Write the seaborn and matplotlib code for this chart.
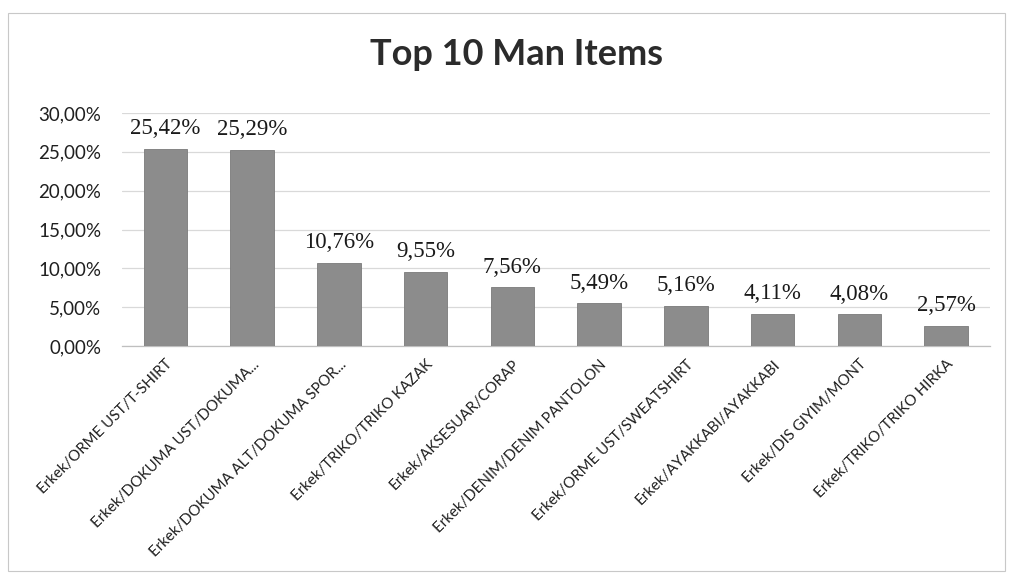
import matplotlib
matplotlib.use("Agg")
import matplotlib.pyplot as plt
from matplotlib.patches import Rectangle
from matplotlib.ticker import FuncFormatter, MultipleLocator
import seaborn as sns
import pandas as pd

categories = [
    "Erkek/ORME UST/T-SHIRT",
    "Erkek/DOKUMA UST/DOKUMA...",
    "Erkek/DOKUMA ALT/DOKUMA SPOR...",
    "Erkek/TRIKO/TRIKO KAZAK",
    "Erkek/AKSESUAR/CORAP",
    "Erkek/DENIM/DENIM PANTOLON",
    "Erkek/ORME UST/SWEATSHIRT",
    "Erkek/AYAKKABI/AYAKKABI",
    "Erkek/DIS GIYIM/MONT",
    "Erkek/TRIKO/TRIKO HIRKA",
]
shares = [25.42, 25.29, 10.76, 9.55, 7.56, 5.49, 5.16, 4.11, 4.08, 2.57]
title = "Top 10 Man Items"

df = pd.DataFrame({"item": categories, "share": shares})

sns.set_theme(style="white")
plt.rcParams["font.family"] = ["Lato", "DejaVu Sans"]

fig = plt.figure(figsize=(10.17, 5.76), dpi=100)
ax = fig.add_axes([0.12, 0.399, 0.853, 0.405])

sns.barplot(data=df, x="item", y="share", color="#8c8c8c", width=0.5,
            saturation=1, edgecolor="#7a7a7a", linewidth=0.6, ax=ax, zorder=3)

ax.set_xlim(-0.5, len(categories) - 0.5)
ax.set_ylim(0, 30)
ax.yaxis.set_major_locator(MultipleLocator(5))
ax.yaxis.set_major_formatter(FuncFormatter(lambda v, _: f"{v:.2f}".replace(".", ",") + "%"))
ax.grid(axis="y", color="#d9d9d9", linewidth=0.9, zorder=0)
ax.set_axisbelow(True)
for side in ["top", "right", "left"]:
    ax.spines[side].set_visible(False)
ax.spines["bottom"].set_color("#bfbfbf")
ax.spines["bottom"].set_linewidth(0.9)
ax.tick_params(axis="both", length=0)
ax.tick_params(axis="y", labelsize=13.5, colors="#1f1f1f", pad=15)
ax.set_xlabel("")
ax.set_ylabel("")

ax.set_xticks(range(len(categories)))
ax.set_xticklabels(categories, rotation=45, ha="right", rotation_mode="anchor",
                   fontsize=10.8, color="#1f1f1f")
ax.tick_params(axis="x", pad=8)

for i, v in enumerate(shares):
    ax.annotate(f"{v:.2f}".replace(".", ",") + "%", xy=(i, v), xytext=(0, 7),
                textcoords="offset points", ha="center", va="bottom",
                fontsize=16.5, family="Liberation Serif", color="#1a1a1a")

fig.text(0.508, 0.906, title, ha="center", va="center", fontsize=26,
         fontweight="bold", color="#2b2b2b")

fig.patches.append(Rectangle((0.008, 0.008), 0.98, 0.97, transform=fig.transFigure,
                             fill=False, edgecolor="#c8c8c8", linewidth=0.8))

fig.savefig("out.png", dpi=100)
